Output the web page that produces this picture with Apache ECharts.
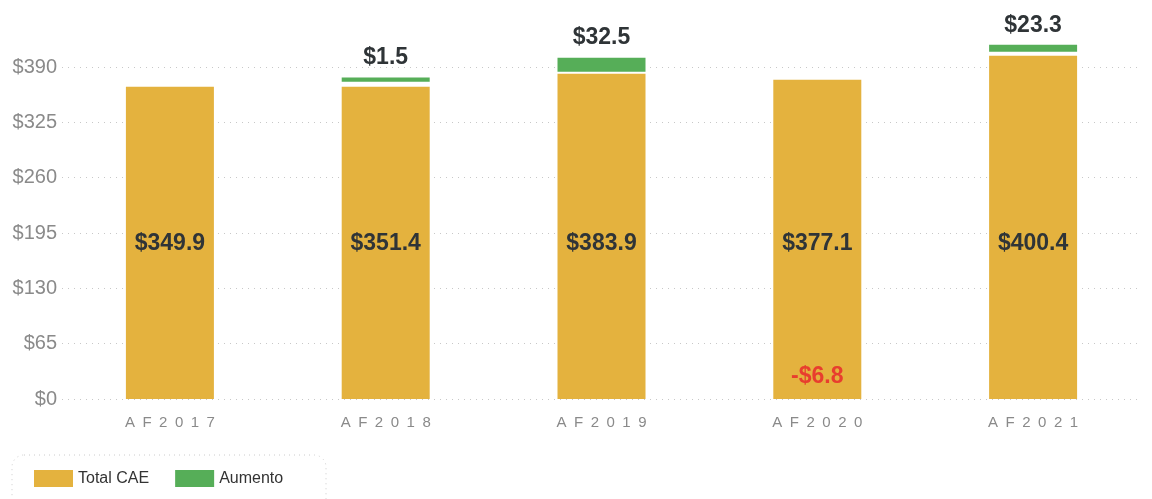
<!DOCTYPE html>
<html>
<head>
<meta charset="utf-8">
<style>
  html, body { margin: 0; padding: 0; background: #fff; }
  #chart { width: 1152px; height: 499px; }
</style>
<script src="https://cdn.jsdelivr.net/npm/echarts@6/dist/echarts.min.js"></script>
</head>
<body>
<div id="chart"></div>
<script>
// datos
var categories = ['AF2017', 'AF2018', 'AF2019', 'AF2020', 'AF2021'];
var totalValues = [349.9, 351.4, 383.9, 377.1, 400.4];      // etiquetas Total CAE
var changeValues = [null, 1.5, 32.5, -6.8, 23.3];           // etiquetas Aumento
// alturas
var totalHeights = [366.8, 366.8, 382.1, 375.1, 403.3];
var gapHeights = [null, 5.9, 2.4, null, 4.7];
var increaseHeights = [null, 5.1, 16.5, null, 8.2];
var yMax = 390, yStep = 65;

var font = "'Liberation Sans', Arial, sans-serif";
var myChart = echarts.init(document.getElementById('chart'));

var option = {
  animation: false,
  textStyle: { fontFamily: font },
  grid: { left: 62, right: 11, top: 67, bottom: 100 },
  legend: {
    data: ['Total CAE', 'Aumento'],
    left: 34, top: 470,
    padding: 0,
    itemWidth: 39, itemHeight: 17, itemGap: 26,
    icon: 'rect',
    textStyle: { color: '#333', fontSize: 16, fontFamily: font }
  },
  graphic: [{
    type: 'rect',
    shape: { x: 12, y: 455, width: 314, height: 60, r: 12 },
    style: { fill: 'none', stroke: '#ccc', lineWidth: 1, lineDash: [1, 4] },
    silent: true
  }],
  xAxis: {
    type: 'category',
    data: categories,
    axisLine: { show: false },
    axisTick: { show: false },
    axisLabel: {
      color: '#8a8a8a', fontSize: 15, margin: 16,
      formatter: function (v) { return v.split('').join('\u2002'); }
    }
  },
  yAxis: {
    type: 'value',
    min: 0, max: yMax, interval: yStep,
    axisLine: { show: false },
    axisTick: { show: false },
    axisLabel: {
      color: '#8a8a8a', fontSize: 20, margin: 5,
      formatter: function (v) { return '$' + v; }
    },
    splitLine: { lineStyle: { color: '#c8c8c8', type: [1, 5] } }
  },
  series: [{
    name: 'Total CAE',
    type: 'bar',
    stack: 'a',
    barWidth: 88,
    clip: false,
    data: totalHeights,
    itemStyle: { color: '#E4B23E' },
    label: {
      show: true,
      position: 'insideBottom',
      distance: 144,
      color: '#2f3437', fontSize: 23, fontWeight: 'bold',
      formatter: function (p) { return '$' + totalValues[p.dataIndex].toFixed(1); }
    }
  }, {
    name: 'gap',
    type: 'bar',
    stack: 'a',
    clip: false,
    data: gapHeights,
    itemStyle: { color: 'rgba(0,0,0,0)' }
  }, {
    name: 'Aumento',
    type: 'bar',
    stack: 'a',
    clip: false,
    data: increaseHeights,
    itemStyle: { color: '#56AE58' },
    label: {
      show: true,
      position: 'top',
      distance: 8,
      color: '#2f3437', fontSize: 23, fontWeight: 'bold',
      formatter: function (p) {
        var v = changeValues[p.dataIndex];
        return v > 0 ? '$' + v.toFixed(1) : '';
      }
    }
  }, {
    name: 'negativo',
    type: 'scatter',
    symbolSize: 0,
    data: changeValues.map(function (v) { return v < 0 ? 0 : null; }),
    label: {
      show: true,
      position: 'top',
      distance: 11,
      color: '#E8202A', fontSize: 23, fontWeight: 'bold',
      formatter: function (p) { return '-$' + Math.abs(changeValues[p.dataIndex]).toFixed(1); }
    }
  }]
};

myChart.setOption(option);
</script>
</body>
</html>
